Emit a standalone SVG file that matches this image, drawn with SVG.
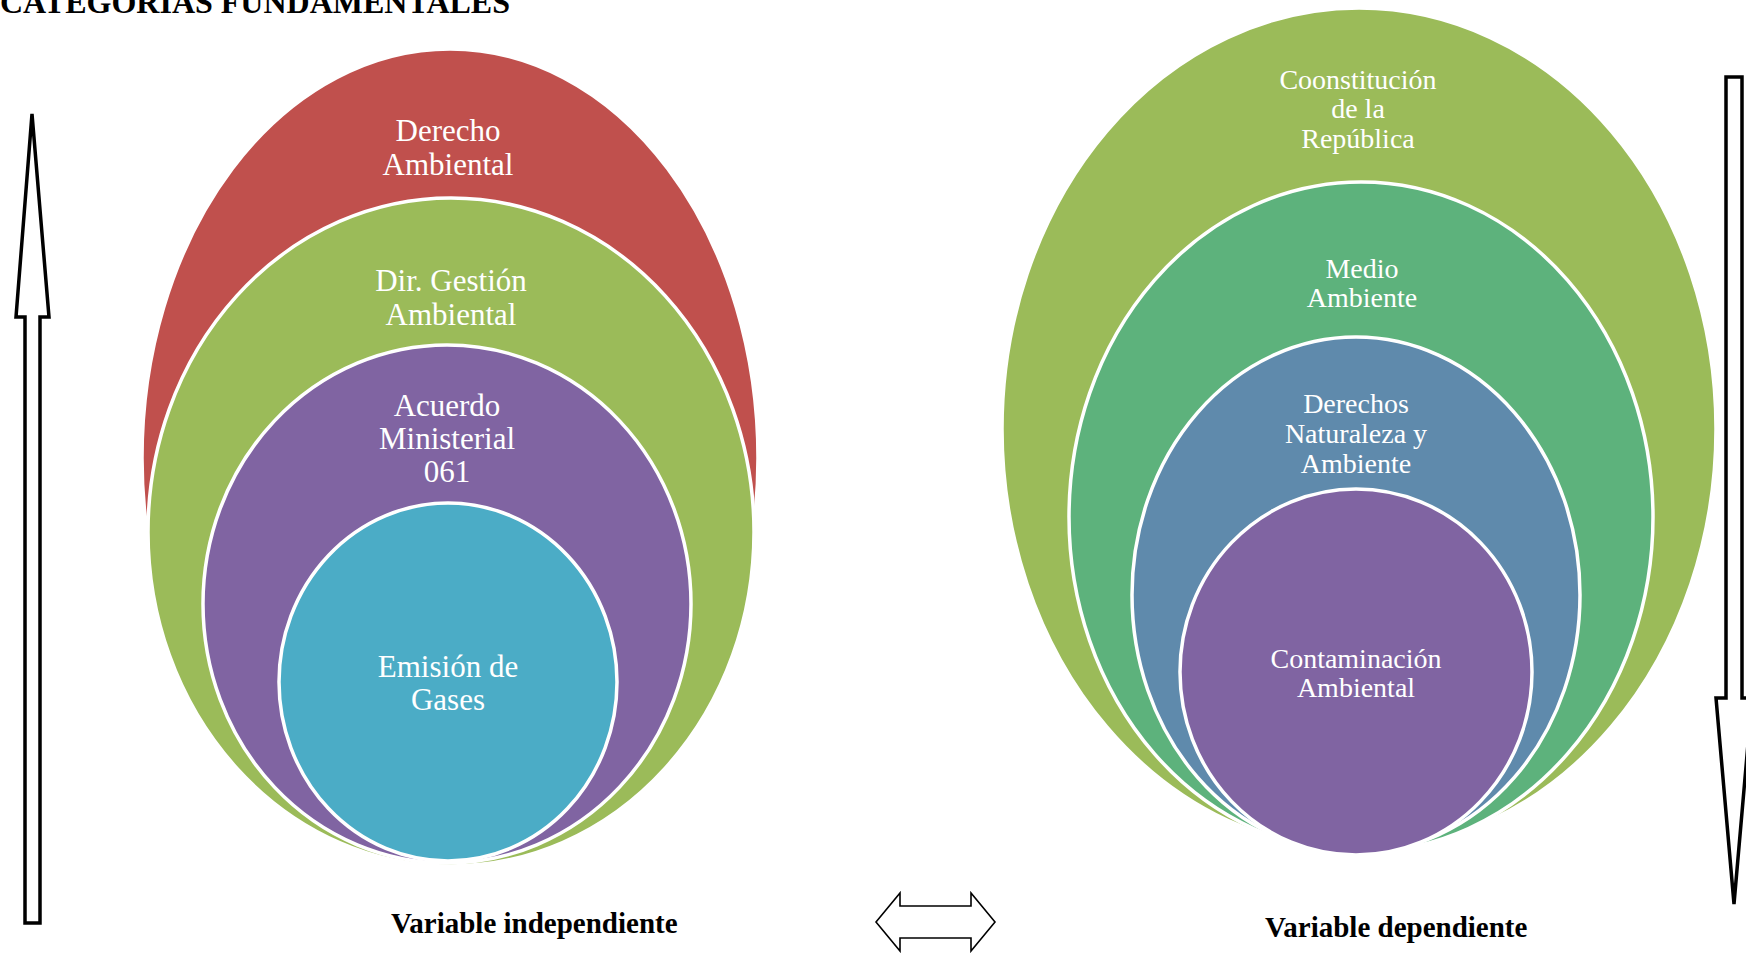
<svg xmlns="http://www.w3.org/2000/svg" width="1746" height="953" viewBox="0 0 1746 953">
<style>
.ring{stroke:#ffffff;stroke-width:3.5}
.lt{font-family:"Liberation Serif","Times New Roman",serif;font-size:31px;fill:#ffffff;text-anchor:middle}
.rt{font-family:"Liberation Serif","Times New Roman",serif;font-size:28px;fill:#ffffff;text-anchor:middle}
.lbl{font-family:"Liberation Serif","Times New Roman",serif;font-weight:bold;fill:#000000}
.arrow{fill:#ffffff;stroke:#000000;stroke-linejoin:miter}
</style>
<rect x="0" y="0" width="1746" height="953" fill="#ffffff"/>
<text class="lbl" x="0" y="13" font-size="32">CATEGORIAS FUNDAMENTALES</text>

<g id="derecho-ambiental">
<ellipse class="ring" cx="450" cy="458" rx="308" ry="409" fill="#C0504D"/>
<text class="lt" x="448" y="141">Derecho</text>
<text class="lt" x="448" y="175">Ambiental</text>
</g>
<g id="dir-gestion-ambiental">
<ellipse class="ring" cx="451" cy="532" rx="303" ry="334" fill="#9BBB59"/>
<text class="lt" x="451" y="291">Dir. Gestión</text>
<text class="lt" x="451" y="325">Ambiental</text>
</g>
<g id="acuerdo-ministerial">
<ellipse class="ring" cx="447" cy="604" rx="244" ry="259" fill="#8064A2"/>
<text class="lt" x="447" y="416">Acuerdo</text>
<text class="lt" x="447" y="449">Ministerial</text>
<text class="lt" x="447" y="482">061</text>
</g>
<g id="emision-gases">
<ellipse class="ring" cx="448" cy="682" rx="169" ry="179" fill="#4BACC6"/>
<text class="lt" x="448" y="677">Emisión de</text>
<text class="lt" x="448" y="710">Gases</text>
</g>

<g id="constitucion">
<ellipse class="ring" cx="1359" cy="429" rx="357" ry="421" fill="#9BBB59"/>
<text class="rt" x="1358" y="89">Coonstitución</text>
<text class="rt" x="1358" y="118">de la</text>
<text class="rt" x="1358" y="148">República</text>
</g>
<g id="medio-ambiente">
<ellipse class="ring" cx="1361" cy="517" rx="292" ry="335" fill="#5DB27C"/>
<text class="rt" x="1362" y="278">Medio</text>
<text class="rt" x="1362" y="307">Ambiente</text>
</g>
<g id="derechos-naturaleza">
<ellipse class="ring" cx="1356" cy="595" rx="224" ry="258" fill="#5F8AAC"/>
<text class="rt" x="1356" y="413">Derechos</text>
<text class="rt" x="1356" y="443">Naturaleza y</text>
<text class="rt" x="1356" y="473">Ambiente</text>
</g>
<g id="contaminacion-ambiental">
<ellipse class="ring" cx="1356" cy="672" rx="176" ry="183" fill="#8064A2"/>
<text class="rt" x="1356" y="668">Contaminación</text>
<text class="rt" x="1356" y="697">Ambiental</text>
</g>

<g id="connectors">
<path class="arrow" stroke-width="3.5" d="M32,114 L49,317 L40,317 L40,923 L25,923 L25,317 L16,317 Z"/>
<path class="arrow" stroke-width="3.5" d="M1726,77 L1742,77 L1742,698 L1752,698 L1734,904 L1716,698 L1726,698 Z"/>
<path class="arrow" stroke-width="1.6" d="M876,922 L900,893 L900,906 L971,906 L971,893 L995,922 L971,951 L971,938 L900,938 L900,951 Z"/>
</g>

<text class="lbl" x="391" y="933" font-size="29">Variable independiente</text>
<text class="lbl" x="1265" y="937" font-size="29">Variable dependiente</text>
</svg>
